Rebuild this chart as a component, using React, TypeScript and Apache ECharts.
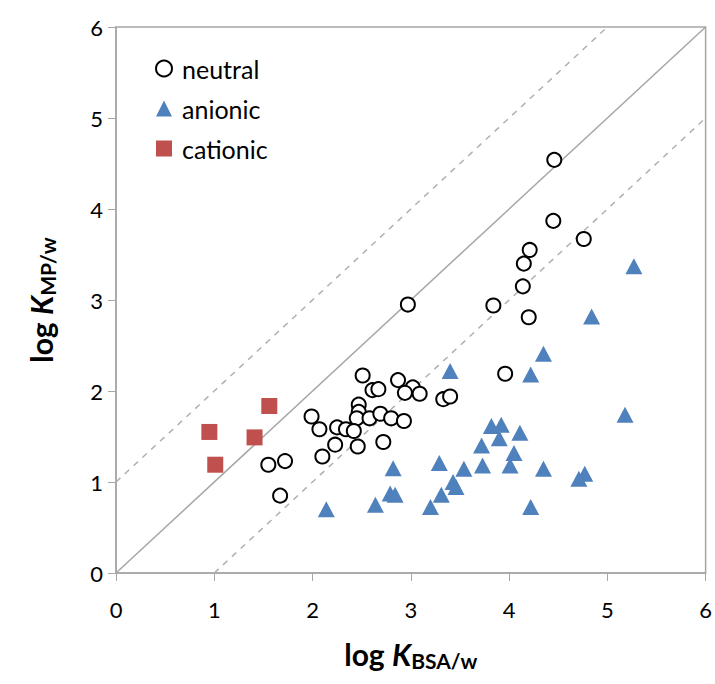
import React, { useEffect, useRef } from "react";
import * as echarts from "echarts";

const xTicks = [0, 1, 2, 3, 4, 5, 6];
const yTicks = [0, 1, 2, 3, 4, 5, 6];

const neutral: [number, number][] = [
  [4.46, 4.54], [4.45, 3.87], [4.76, 3.67], [4.21, 3.55], [4.15, 3.4], [4.14, 3.15],
  [2.97, 2.95], [3.84, 2.94], [4.2, 2.81], [3.96, 2.19], [2.87, 2.12], [3.02, 2.04],
  [2.94, 1.98], [3.09, 1.97], [3.33, 1.91], [3.4, 1.94], [2.51, 2.17], [2.61, 2.01],
  [2.67, 2.02], [2.47, 1.85], [2.47, 1.77], [2.45, 1.7], [1.99, 1.72], [2.07, 1.58],
  [2.25, 1.6], [2.34, 1.58], [2.42, 1.56], [2.58, 1.7], [2.69, 1.75], [2.8, 1.7],
  [2.93, 1.67], [2.23, 1.41], [2.46, 1.39], [2.72, 1.44], [2.1, 1.28], [1.55, 1.19],
  [1.72, 1.23], [1.67, 0.85],
];

const anionic: [number, number][] = [
  [2.82, 1.15], [2.79, 0.875], [2.84, 0.86], [2.14, 0.7], [2.64, 0.75], [5.27, 3.37],
  [4.84, 2.82], [3.4, 2.22], [4.35, 2.41], [4.22, 2.18], [5.18, 1.74], [3.82, 1.615],
  [3.92, 1.63], [3.9, 1.48], [4.11, 1.54], [3.72, 1.4], [4.05, 1.32], [3.29, 1.21],
  [3.54, 1.145], [3.73, 1.18], [4.01, 1.18], [4.35, 1.145], [4.77, 1.09], [4.71, 1.035],
  [3.43, 1.0], [3.46, 0.945], [3.31, 0.86], [3.2, 0.725], [4.22, 0.725],
];

const cationic: [number, number][] = [
  [1.56, 1.835], [0.95, 1.55], [1.41, 1.49], [1.01, 1.19],
];

const identityLine: [number, number][] = [[0, 0], [6, 6]];
const upperLine: [number, number][] = [[0, 1], [5, 6]];
const lowerLine: [number, number][] = [[1, 0], [6, 5]];

const FONT = "Lato, 'Open Sans', sans-serif";
const GRAY = "#a6a6a6";

export default function App() {
  const ref = useRef<HTMLDivElement>(null);
  useEffect(() => {
    if (!ref.current) return;
    const chart = echarts.init(ref.current, undefined, { renderer: "svg" });
    const axisCommon = {
      min: 0,
      max: 6,
      interval: 1,
      axisLine: { show: true, lineStyle: { color: GRAY, width: 1.5 } },
      axisTick: { show: true, inside: false, length: 8, lineStyle: { color: GRAY, width: 1 } },
      splitLine: { show: false },
      nameLocation: "middle" as const,
    };
    const titleRich = {
      a: { fontFamily: FONT, fontSize: 30, fontWeight: "bold", color: "#000" },
      b: { fontFamily: FONT, fontSize: 30, fontWeight: "bold", fontStyle: "italic", color: "#000" },
      c: { fontFamily: FONT, fontSize: 21, fontWeight: "bold", color: "#000", padding: [13, 0, 0, 0] },
    };
    chart.setOption({
      animation: false,
      backgroundColor: "#fff",
      grid: {
        left: 116,
        right: 8,
        top: 27,
        bottom: 111,
        show: true,
        borderColor: GRAY,
        borderWidth: 1.5,
        containLabel: false,
      },
      legend: {
        show: true,
        orient: "vertical",
        left: 150,
        top: 51,
        itemWidth: 16,
        itemHeight: 16,
        itemGap: 15,
        data: ["neutral", "anionic", "cationic"],
        textStyle: { fontFamily: FONT, fontSize: 25, color: "#000", padding: [0, 0, 0, 5] },
      },
      xAxis: {
        ...axisCommon,
        type: "value",
        axisLabel: { fontFamily: FONT, fontSize: 22, color: "#000", margin: 25 },
        name: "{a|log }{b|K}{c|BSA/w}",
        nameGap: 64,
        nameTextStyle: { rich: titleRich },
      },
      yAxis: {
        ...axisCommon,
        type: "value",
        axisLabel: { fontFamily: FONT, fontSize: 22, color: "#000", margin: 13 },
        name: "{a|log }{b|K}{c|MP/w}",
        nameGap: 58,
        nameRotate: 90,
        nameTextStyle: { rich: titleRich },
      },
      series: [
        {
          type: "line",
          data: identityLine,
          symbol: "none",
          silent: true,
          lineStyle: { color: GRAY, width: 1.5, type: "solid" },
          z: 1,
        },
        {
          type: "line",
          data: upperLine,
          symbol: "none",
          silent: true,
          lineStyle: { color: "#b0b0b0", width: 1.5, type: [6, 6] },
          z: 1,
        },
        {
          type: "line",
          data: lowerLine,
          symbol: "none",
          silent: true,
          lineStyle: { color: "#b0b0b0", width: 1.5, type: [6, 6] },
          z: 1,
        },
        {
          name: "neutral",
          type: "scatter",
          data: neutral,
          symbol: "circle",
          symbolSize: 14,
          itemStyle: { color: "#fff", borderColor: "#000", borderWidth: 2, opacity: 1 },
          z: 3,
        },
        {
          name: "anionic",
          type: "scatter",
          data: anionic,
          symbol: "triangle",
          symbolSize: [17, 16],
          itemStyle: { color: "#4f81bd", opacity: 1 },
          z: 4,
        },
        {
          name: "cationic",
          type: "scatter",
          data: cationic,
          symbol: "rect",
          symbolSize: 16,
          itemStyle: { color: "#c0504d", opacity: 1 },
          z: 4,
        },
      ],
    });
    return () => chart.dispose();
  }, []);
  return (
    <div
      ref={ref}
      style={{ position: "absolute", left: 0, top: 0, width: 715, height: 684 }}
    />
  );
}
